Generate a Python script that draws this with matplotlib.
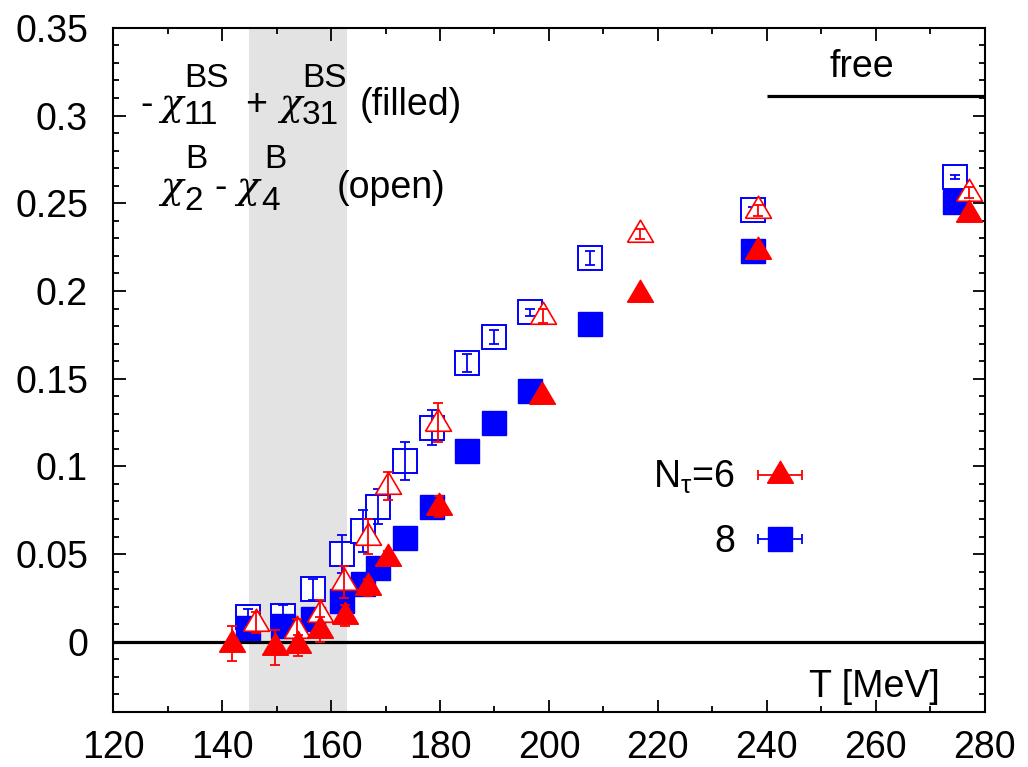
import numpy as np
import matplotlib
matplotlib.use("Agg")
import matplotlib.pyplot as plt
from matplotlib.ticker import MultipleLocator, FormatStrFormatter
from matplotlib.legend_handler import HandlerErrorbar
from matplotlib.container import ErrorbarContainer

plt.rcParams['font.family'] = ['Liberation Sans', 'DejaVu Sans']
plt.rcParams['mathtext.fontset'] = 'custom'
plt.rcParams['mathtext.rm'] = 'Liberation Sans'
plt.rcParams['mathtext.it'] = 'Liberation Sans'
plt.rcParams['mathtext.bf'] = 'Liberation Sans:bold'

# N_tau = 8 (blue squares)
T8 = [144.8, 151.2, 156.7, 162.0, 165.9, 168.6, 173.6, 178.5, 185.0, 189.9, 196.5, 207.5, 237.4, 274.5]
open8 = [0.014, 0.015, 0.030, 0.050, 0.063, 0.077, 0.103, 0.122, 0.159, 0.174, 0.188, 0.219, 0.246, 0.265]
open8_err = [0.005, 0.006, 0.006, 0.011, 0.012, 0.010, 0.011, 0.010, 0.005, 0.004, 0.002, 0.004, 0.002, 0.001]
fill8 = [0.008, 0.009, 0.013, 0.023, 0.033, 0.042, 0.059, 0.077, 0.109, 0.125, 0.143, 0.181, 0.223, 0.251]
fill8_err = [0.003, 0.003, 0.003, 0.003, 0.003, 0.003, 0.003, 0.003, 0.002, 0.002, 0.002, 0.002, 0.001, 0.001]

# N_tau = 6 (red triangles)
T6_open = [146.2, 153.8, 158.0, 162.3, 166.8, 170.5, 179.7, 198.9, 216.7, 238.3, 277.1]
open6 = [0.011, 0.007, 0.016, 0.034, 0.060, 0.089, 0.125, 0.186, 0.2326, 0.246, 0.256]
open6_err = [0.006, 0.006, 0.008, 0.009, 0.010, 0.008, 0.011, 0.004, 0.003, 0.003, 0.003]
T6_fill = [141.8, 149.7, 154.0, 158.0, 162.6, 166.8, 170.5, 179.8, 198.7, 216.7, 238.3, 277.1]
fill6 = [-0.001, -0.003, -0.002, 0.007, 0.015, 0.031, 0.048, 0.077, 0.140, 0.198, 0.223, 0.244]
fill6_err = [0.010, 0.010, 0.006, 0.007, 0.006, 0.005, 0.004, 0.006, 0.003, 0.002, 0.002, 0.002]

tc_band = (145, 163)
free_value = 0.311
free_from = 240

red = '#ff0000'
blue = '#0000ff'
tri = [(-1, -0.6), (1, -0.6), (0, 1.1), (-1, -0.6)]
fs = 27
ss = 24
W, H = 1028, 767

fig = plt.figure(figsize=(W / 100, H / 100), dpi=100)
ax = fig.add_axes([0.110, 0.0717, 0.848, 0.892])

ax.axvspan(tc_band[0], tc_band[1], color='#e3e3e3', lw=0, zorder=0)
ax.axhline(0, color='black', lw=2.3, zorder=1)
ax.hlines(free_value, free_from, 280, color='black', lw=2.3, zorder=1)

ebkw = dict(fmt='none', elinewidth=1.3, capsize=3.6, capthick=1.3)
# open squares, their bars on top
ax.plot(T8, open8, ls='none', marker='s', ms=17.5, mfc='white', mec=blue, mew=1.4, zorder=3)
ax.errorbar(T8, open8, yerr=open8_err, ecolor=blue, zorder=3.5, **ebkw)
# filled squares
ax.errorbar(T8, fill8, yerr=fill8_err, ecolor=blue, zorder=3.8, **ebkw)
ax.plot(T8, fill8, ls='none', marker='s', ms=17.5, mfc=blue, mec=blue, mew=1.0, zorder=4)
# open triangles
ax.plot(T6_open, open6, ls='none', marker=tri, ms=20.5, mfc='white', mec=red, mew=1.2, zorder=5)
ax.errorbar(T6_open, open6, yerr=open6_err, ecolor=red, zorder=5.5, **ebkw)
# filled triangles
ax.errorbar(T6_fill, fill6, yerr=fill6_err, ecolor=red, zorder=6, **ebkw)
ax.plot(T6_fill, fill6, ls='none', marker=tri, ms=20.5, mfc=red, mec=red, mew=1.0, zorder=6)

ax.set_xlim(120, 280)
ax.set_ylim(-0.04, 0.35)
ax.xaxis.set_major_locator(MultipleLocator(20))
ax.xaxis.set_minor_locator(MultipleLocator(10))
ax.yaxis.set_major_locator(MultipleLocator(0.05))
ax.yaxis.set_minor_locator(MultipleLocator(0.01))
ax.yaxis.set_major_formatter(FormatStrFormatter('%g'))
ax.tick_params(which='both', direction='in', top=True, right=True, width=1.3, labelsize=fs)
ax.tick_params(which='major', length=9)
ax.tick_params(which='minor', length=4.5)
ax.tick_params(axis='x', pad=13)
ax.tick_params(axis='y', pad=18)
for s in ax.spines.values():
    s.set_linewidth(1.5)


def label(x, y, s, size=fs, **kw):
    # x, y in pixels from the top-left corner, y is the baseline
    fig.text(x / W, 1 - y / H, s, fontsize=size, va='baseline', ha='left', **kw)


chi = dict(family=['DejaVu Serif'], style='italic')
# - chi11^BS + chi31^BS (filled)
label(140, 115, '-')
label(160, 115, 'χ', fs, **chi)
label(184, 124, '11', ss)
label(184, 87, 'BS', ss)
label(245, 115, '+')
label(279, 115, 'χ', fs, **chi)
label(302, 124, '31', ss)
label(302, 87, 'BS', ss)
label(360, 115, '(filled)')
# chi2^B - chi4^B (open)
label(160, 198, 'χ', fs, **chi)
label(184, 210, '2', ss)
label(185, 168, 'B', ss)
label(214, 198, '-')
label(236, 198, 'χ', fs, **chi)
label(261, 210, '4', ss)
label(264, 168, 'B', ss)
label(337, 198, '(open)')

ax.text(257.4, 0.322, 'free', fontsize=fs, ha='center', va='baseline')
ax.text(271.7, -0.0314, 'T [MeV]', fontsize=fs, ha='right', va='baseline')

# legend handles
h6 = ax.errorbar([np.nan], [np.nan], xerr=[1], marker=tri, ms=20.5, color=red, ls='none',
                 elinewidth=1.3, capsize=3.6, capthick=1.3)
h8 = ax.errorbar([np.nan], [np.nan], xerr=[1], marker='s', ms=17.5, color=blue, ls='none',
                 elinewidth=1.3, capsize=3.6, capthick=1.3)
ax.legend([h6, h8], [r'N$_\tau$=6', '8'], loc='center right', bbox_to_anchor=(0.791, 0.296),
          markerfirst=False, frameon=False, handlelength=1.2, handletextpad=0.6,
          labelspacing=0.75, fontsize=fs, borderpad=0, borderaxespad=0, numpoints=1,
          handler_map={ErrorbarContainer: HandlerErrorbar(xerr_size=0.58)})

fig.savefig('out.png', dpi=100)
